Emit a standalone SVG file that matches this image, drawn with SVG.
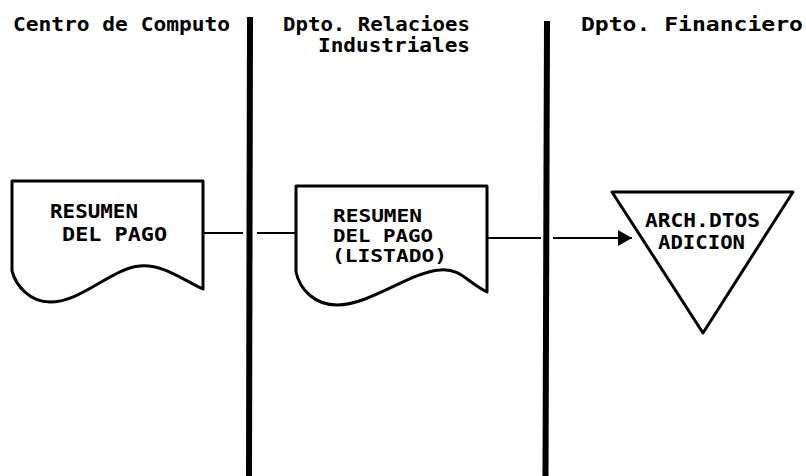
<svg xmlns="http://www.w3.org/2000/svg" width="806" height="476" viewBox="0 0 806 476">
<style>
.bg{fill:#fff}
.hdr{font-family:"DejaVu Sans Mono","Liberation Mono",monospace;font-weight:bold;font-size:19px;fill:#000}
.lbl{font-family:"DejaVu Sans Mono","Liberation Mono",monospace;font-weight:bold;font-size:20px;fill:#000}
.lbl2{font-family:"DejaVu Sans Mono","Liberation Mono",monospace;font-weight:bold;font-size:17px;fill:#000}
.shape{fill:#fff;stroke:#000;stroke-width:3;stroke-linejoin:round}
.bar{stroke:#000;stroke-width:6;fill:none}
.conn{stroke:#000;stroke-width:2;fill:none}
</style>
<defs>
<marker id="arrow" markerWidth="16" markerHeight="18" refX="14" refY="8" orient="auto" markerUnits="userSpaceOnUse">
<path d="M0,0 L14,8 L0,16 Z" fill="#000"/>
</marker>
</defs>
<rect class="bg" x="0" y="0" width="806" height="476"/>
<g id="headers">
<text class="hdr" x="13" y="31" textLength="217" lengthAdjust="spacingAndGlyphs">Centro de Computo</text>
<text class="hdr" x="283" y="31" textLength="187" lengthAdjust="spacingAndGlyphs">Dpto. Relacioes</text>
<text class="hdr" x="318" y="52" textLength="152" lengthAdjust="spacingAndGlyphs">Industriales</text>
<text class="hdr" x="581" y="31" textLength="222" lengthAdjust="spacingAndGlyphs">Dpto. Financiero</text>
</g>
<g id="lanes">
<line class="bar" x1="250" y1="17" x2="249" y2="476"/>
<line class="bar" x1="547" y1="21" x2="545.5" y2="476"/>
</g>
<g id="connectors">
<path class="conn" d="M203,233 H243 M257,233 H296"/>
<path class="conn" d="M487,238 H541 M553,238 H632" marker-end="url(#arrow)"/>
</g>
<g id="doc1">
<path class="shape" d="M12,181 L203,181 L203,289 C183,280 163,264 140,266 C112,268 82,302 50,302 C30,302 16,286 12,271 Z"/>
<text class="lbl" x="50" y="218" textLength="88" lengthAdjust="spacingAndGlyphs">RESUMEN</text>
<text class="lbl" x="62" y="241" textLength="105" lengthAdjust="spacingAndGlyphs">DEL PAGO</text>
</g>
<g id="doc2">
<path class="shape" d="M296,186 L487,186 L487,292 C467,282 460,268 440,270 C410,272 370,305 337,305 C315,305 300,290 296,272 Z"/>
<text class="lbl2" x="333" y="222" textLength="89" lengthAdjust="spacingAndGlyphs">RESUMEN</text>
<text class="lbl2" x="333" y="242" textLength="100" lengthAdjust="spacingAndGlyphs">DEL PAGO</text>
<text class="lbl2" x="332" y="262" textLength="115" lengthAdjust="spacingAndGlyphs">(LISTADO)</text>
</g>
<g id="file">
<path class="shape" d="M612,192 L793,192 L703,333 Z"/>
<text class="lbl" x="645" y="227" textLength="115" lengthAdjust="spacingAndGlyphs">ARCH.DTOS</text>
<text class="lbl" x="658" y="249" textLength="87" lengthAdjust="spacingAndGlyphs">ADICION</text>
</g>
</svg>
